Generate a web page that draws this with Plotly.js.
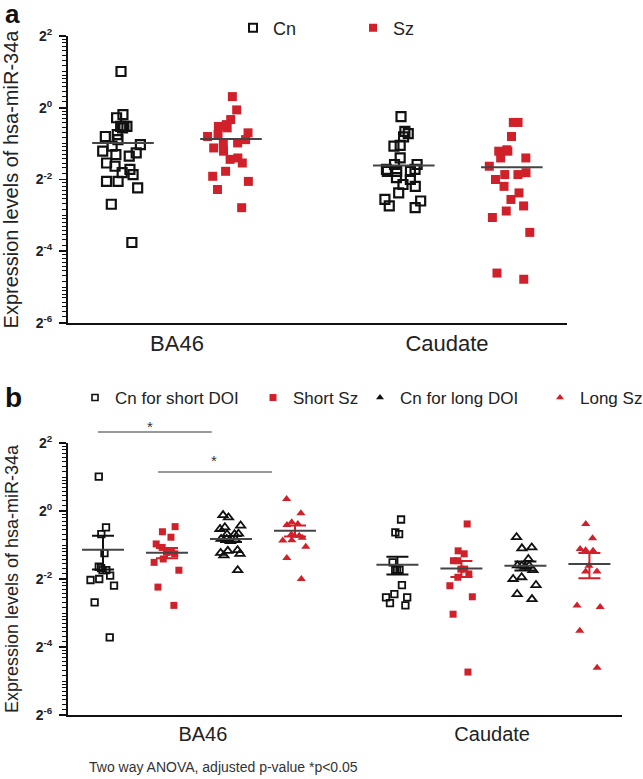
<!DOCTYPE html>
<html>
<head>
<meta charset="utf-8">
<script src="https://cdn.plot.ly/plotly-3.0.1.min.js"></script>
<style>html,body{margin:0;padding:0;background:#fff;}#chart{width:643px;height:779px;}</style>
</head>
<body>
<div id="chart"></div>
<script>
// ---------- DATA (expression levels of hsa-miR-34a) ----------
const regions = ['BA46', 'Caudate'];
const groupsA = ['Cn', 'Sz'];
const groupsB = ['Cn for short DOI', 'Short Sz', 'Cn for long DOI', 'Long Sz'];

// Panel a
const cnBA46 = [2.014, 0.877, 0.824, 0.697, 0.678, 0.697, 0.697, 0.595, 0.574, 0.540, 0.490, 0.476, 0.418, 0.404, 0.432, 0.392, 0.323, 0.344, 0.304, 0.241, 0.241, 0.275, 0.285, 0.213, 0.155, 0.074];
const szBA46 = [1.240, 0.959, 0.796, 0.722, 0.697, 0.678, 0.616, 0.595, 0.574, 0.540, 0.507, 0.507, 0.460, 0.432, 0.369, 0.379, 0.344, 0.293, 0.266, 0.241, 0.206, 0.145];
const cnCaudate = [0.841, 0.633, 0.607, 0.570, 0.476, 0.483, 0.379, 0.334, 0.334, 0.293, 0.304, 0.293, 0.293, 0.304, 0.259, 0.250, 0.227, 0.219, 0.193, 0.165, 0.170, 0.145, 0.150];
const szCaudate = [0.753, 0.753, 0.574, 0.444, 0.432, 0.432, 0.379, 0.379, 0.323, 0.275, 0.275, 0.285, 0.250, 0.219, 0.193, 0.170, 0.150, 0.136, 0.120, 0.090, 0.041, 0.0364];
const meanA_Cn = [0.507, 0.328];
const meanA_Sz = [0.547, 0.316];

// Panel b
const cnShortBA46 = [2.014, 0.717, 0.624, 0.423, 0.321, 0.299, 0.299, 0.312, 0.250, 0.268, 0.245, 0.218, 0.155, 0.076];
const szShortBA46 = [0.727, 0.655, 0.586, 0.511, 0.476, 0.432, 0.432, 0.418, 0.376, 0.351, 0.299, 0.212, 0.146];
const cnLongBA46 = [0.877, 0.920, 0.743, 0.693, 0.717, 0.624, 0.624, 0.630, 0.566, 0.560, 0.540, 0.566, 0.444, 0.450, 0.418, 0.425, 0.404, 0.299];
const szLongBA46 = [1.274, 0.953, 0.796, 0.768, 0.750, 0.603, 0.603, 0.620, 0.580, 0.547, 0.483, 0.550, 0.384, 0.250];
const cnShortCaudate = [0.841, 0.646, 0.624, 0.351, 0.302, 0.302, 0.302, 0.221, 0.172, 0.184, 0.172, 0.146, 0.153];
const szShortCaudate = [0.768, 0.418, 0.444, 0.363, 0.363, 0.306, 0.306, 0.277, 0.259, 0.218, 0.174, 0.122, 0.0375];
const cnLongCaudate = [0.586, 0.467, 0.476, 0.376, 0.328, 0.328, 0.330, 0.259, 0.300, 0.250, 0.221, 0.184, 0.166, 0.320];
const szLongCaudate = [0.768, 0.574, 0.460, 0.450, 0.444, 0.291, 0.291, 0.328, 0.141, 0.146, 0.087, 0.041];
const meanB_CnShort = [0.454, 0.334];
const semB_CnShort = [0.150, 0.060];
const meanB_SzShort = [0.426, 0.310];
const semB_SzShort = [0.045, 0.050];
const meanB_CnLong = [0.566, 0.328];
const semB_CnLong = [0.035, 0.030];
const meanB_SzLong = [0.669, 0.339];
const semB_SzLong = [0.075, 0.085];

const yTickExp = [-6, -4, -2, 0, 2];
const footnote = 'Two way ANOVA, adjusted p-value *p<0.05';
const yTitle = 'Expression levels of hsa-miR-34a';

// ---------- STYLE / LAYOUT ----------
const FONT = 'Liberation Sans, Arial, Helvetica, sans-serif';
const BLACK = '#111111';
const RED = '#d0202a';
const MEANC = '#444444';
const W = 643, H = 779, ML = 68, MR = 21;
const PW = W - ML - MR;
const px = v => (v - ML) / PW;
const py = v => 1 - v / H;

const posA = {Cn: [1, 3.6], Sz: [2, 4.6]};
const posB = [[1, 5.6], [2, 6.6], [3, 7.6], [4, 8.6]];

const tickVals = yTickExp.map(e => Math.pow(2, e));
const tickText = yTickExp.map(e => '<b>2<sup>' + e + '</sup></b>');
const minorVals = [];
for (let k = -6; k < 2; k++) {
  if (k % 2 !== 0) minorVals.push(Math.pow(2, k));
  for (let i = 1; i < 8; i++) minorVals.push(Math.pow(2, k) * (1 + i / 8));
}
const LOGRANGE = [Math.log10(Math.pow(2, -6)), Math.log10(4)];

function boxT(vals, x0, color, symbol, size, lw, xa, ya, width) {
  const open = symbol.indexOf('open') >= 0;
  return {
    type: 'box', y: vals, x0: x0, xaxis: xa, yaxis: ya,
    boxpoints: 'all', jitter: 1, pointpos: 0, width: width,
    line: {width: 0, color: 'rgba(0,0,0,0)'}, fillcolor: 'rgba(0,0,0,0)',
    whiskerwidth: 0, showlegend: false, hoveron: 'points',
    marker: {symbol: symbol, size: size, color: color,
             line: {width: open ? lw : 0, color: color}}
  };
}
function meanT(xs, ys, sems, color, size, capw, xa, ya) {
  const t = {
    type: 'scatter', mode: 'markers', x: xs, y: ys, xaxis: xa, yaxis: ya,
    showlegend: false, hoverinfo: 'y',
    marker: {symbol: 'line-ew-open', size: size, color: MEANC, line: {width: 2, color: MEANC}}
  };
  if (sems) t.error_y = {type: 'data', array: sems, visible: true, color: color, thickness: 2, width: capw};
  return t;
}
function legT(name, symbol, color, size, lw, leg) {
  return {type: 'scatter', mode: 'markers', x: [null], y: [null], xaxis: 'x', yaxis: 'y',
          name: name, legend: leg, showlegend: true,
          marker: {symbol: symbol, size: size, color: color, line: {width: lw, color: color}}};
}

const traces = [];
traces.push(boxT(cnBA46, posA.Cn[0], BLACK, 'square-open', 9, 2.2, 'x', 'y', 0.46));
traces.push(boxT(szBA46, posA.Sz[0], RED, 'square', 9, 0, 'x', 'y', 0.46));
traces.push(boxT(cnCaudate, posA.Cn[1], BLACK, 'square-open', 9, 2.2, 'x', 'y', 0.46));
traces.push(boxT(szCaudate, posA.Sz[1], RED, 'square', 9, 0, 'x', 'y', 0.46));
traces.push(meanT(posA.Cn, meanA_Cn, null, BLACK, 44, 0, 'x', 'y'));
traces.push(meanT(posA.Sz, meanA_Sz, null, RED, 44, 0, 'x', 'y'));
const bSets = [
  [cnShortBA46, cnShortCaudate, BLACK, 'square-open', 6.5, 1.8, meanB_CnShort, semB_CnShort],
  [szShortBA46, szShortCaudate, RED, 'square', 7, 0, meanB_SzShort, semB_SzShort],
  [cnLongBA46, cnLongCaudate, BLACK, 'triangle-up-open', 8, 1.8, meanB_CnLong, semB_CnLong],
  [szLongBA46, szLongCaudate, RED, 'triangle-up', 8, 0, meanB_SzLong, semB_SzLong]
];
bSets.forEach((s, i) => {
  traces.push(boxT(s[0], posB[i][0], s[2], s[3], s[4], s[5], 'x2', 'y2', 0.48));
  traces.push(boxT(s[1], posB[i][1], s[2], s[3], s[4], s[5], 'x2', 'y2', 0.48));
});
bSets.forEach((s, i) => {
  traces.push(meanT(posB[i], s[6], s[7], s[2], 30, 11, 'x2', 'y2'));
});
// legend entries
traces.push(legT(groupsA[0], 'square-open', BLACK, 8, 2, 'legend'));
traces.push(legT(groupsA[1], 'square', RED, 8, 0, 'legend2'));
traces.push(legT(groupsB[0], 'square-open', BLACK, 6, 1.6, 'legend3'));
traces.push(legT(groupsB[1], 'square', RED, 7, 0, 'legend4'));
traces.push(legT(groupsB[2], 'triangle-up', BLACK, 7, 0, 'legend5'));
traces.push(legT(groupsB[3], 'triangle-up', RED, 7, 0, 'legend6'));

function legendAt(xSym, yc, size) {
  return {x: px(xSym - 22), y: py(yc), xref: 'paper', yref: 'paper',
          xanchor: 'left', yanchor: 'middle', orientation: 'h',
          bgcolor: 'rgba(0,0,0,0)', borderwidth: 0,
          font: {family: FONT, size: size, color: '#222'}};
}

function yAxis(domain, titleSize) {
  return {
    type: 'log', range: LOGRANGE, domain: domain,
    tickmode: 'array', tickvals: tickVals, ticktext: tickText,
    tickfont: {family: FONT, size: 14, color: '#222'},
    ticks: 'outside', ticklen: 7, tickwidth: 1.6, tickcolor: BLACK, ticklabelstandoff: 4,
    minor: {tickmode: 'array', tickvals: minorVals, ticks: 'outside', ticklen: 4.5, tickwidth: 1, tickcolor: BLACK},
    showline: true, linecolor: BLACK, linewidth: 2, showgrid: false, zeroline: false, automargin: false,
    title: {text: yTitle, font: {family: FONT, size: titleSize, color: '#222'}, standoff: 12}
  };
}

const layout = {
  width: W, height: H,
  margin: {l: ML, r: MR, t: 0, b: 0, autoexpand: false},
  paper_bgcolor: '#fff', plot_bgcolor: '#fff',
  boxmode: 'overlay',
  xaxis: {
    domain: [0, (567 - ML) / PW], range: [0.491, 5.111], type: 'linear',
    tickmode: 'array', tickvals: [1.5, 4.0], ticktext: regions, ticks: '',
    tickfont: {family: FONT, size: 22, color: '#222'}, automargin: false,
    showline: true, linecolor: BLACK, linewidth: 2, showgrid: false, zeroline: false, anchor: 'y'
  },
  yaxis: Object.assign(yAxis([py(323), py(36)], 20), {anchor: 'x'}),
  xaxis2: {
    domain: [0, 1], range: [0.453, 9.109], type: 'linear',
    tickmode: 'array', tickvals: [2.56, 7.08], ticktext: regions, ticks: '',
    tickfont: {family: FONT, size: 20, color: '#222'}, automargin: false,
    showline: true, linecolor: BLACK, linewidth: 2, showgrid: false, zeroline: false, anchor: 'y2'
  },
  yaxis2: Object.assign(yAxis([py(715), py(443)], 18), {anchor: 'x2'}),
  legend: legendAt(255, 28, 18),
  legend2: legendAt(375, 28, 18),
  legend3: legendAt(97, 398, 17),
  legend4: legendAt(275, 398, 17),
  legend5: legendAt(382, 398, 17),
  legend6: legendAt(562, 398, 17),
  shapes: [
    {type: 'line', xref: 'x2', yref: 'paper', x0: 0.92, x1: 2.70, y0: py(432), y1: py(432), line: {color: '#999', width: 2}},
    {type: 'line', xref: 'x2', yref: 'paper', x0: 1.86, x1: 3.64, y0: py(472), y1: py(472), line: {color: '#999', width: 2}}
  ],
  annotations: [
    {text: '<b>a</b>', xref: 'paper', yref: 'paper', x: px(3), y: py(14), xanchor: 'left', yanchor: 'middle', showarrow: false, font: {family: FONT, size: 26, color: '#111'}},
    {text: '<b>b</b>', xref: 'paper', yref: 'paper', x: px(3), y: py(397), xanchor: 'left', yanchor: 'middle', showarrow: false, font: {family: FONT, size: 28, color: '#111'}},
    {text: '*', xref: 'paper', yref: 'paper', x: px(150), y: py(427), xanchor: 'center', yanchor: 'middle', showarrow: false, font: {family: FONT, size: 15, color: '#333'}},
    {text: '*', xref: 'paper', yref: 'paper', x: px(214), y: py(460), xanchor: 'center', yanchor: 'middle', showarrow: false, font: {family: FONT, size: 15, color: '#333'}},
    {text: footnote, xref: 'paper', yref: 'paper', x: px(87), y: py(767), xanchor: 'left', yanchor: 'middle', showarrow: false, font: {family: FONT, size: 14, color: '#333'}}
  ],
  showlegend: true
};

Plotly.newPlot('chart', traces, layout, {displayModeBar: false, staticPlot: true});
</script>
</body>
</html>
